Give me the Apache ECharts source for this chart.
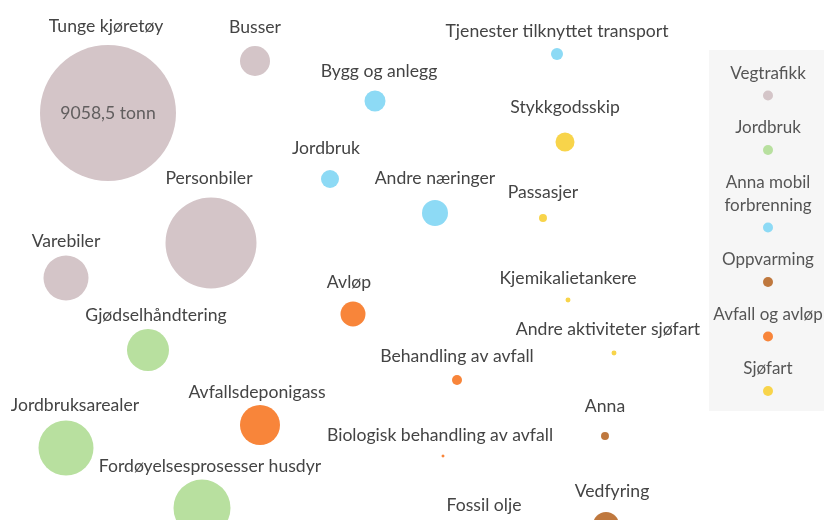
<!DOCTYPE html>
<html>
<head>
<meta charset="utf-8">
<script src="https://cdn.jsdelivr.net/npm/echarts@6/dist/echarts.min.js"></script>
<style>
  html, body { margin: 0; padding: 0; background: #fff; }
  #chart { width: 824px; height: 520px; }
</style>
</head>
<body>
<div id="chart"></div>
<script>
// kategorier (legend)
const categories = ['Vegtrafikk', 'Jordbruk', 'Anna mobil forbrenning', 'Oppvarming', 'Avfall og avløp', 'Sjøfart']
const colors = ['#d4c5c8', '#b8e09f', '#8ddaf5', '#bf783e', '#f8853a', '#f8d44a']

// utslipp i tonn, plassering i et 824 x 520 koordinatrom
const vegtrafikkNames = ['Tunge kjøretøy', 'Busser', 'Personbiler', 'Varebiler']
const vegtrafikkX = [108, 255, 211, 66]
const vegtrafikkY = [113, 61, 243, 278]
const vegtrafikkValues = [9058.5, 441, 4055, 992]

const jordbrukNames = ['Gjødselhåndtering', 'Jordbruksarealer', 'Fordøyelsesprosesser husdyr']
const jordbrukX = [148, 66, 202]
const jordbrukY = [350, 448, 508]
const jordbrukValues = [864, 1481, 1591]

const mobilNames = ['Tjenester tilknyttet transport', 'Bygg og anlegg', 'Jordbruk', 'Andre næringer']
const mobilX = [557, 375, 330, 435]
const mobilY = [54, 101, 179, 213]
const mobilValues = [71, 216, 159, 331]

const oppvarmingNames = ['Anna', 'Vedfyring', 'Fossil olje']
const oppvarmingX = [605, 606, 484]
const oppvarmingY = [436, 525, 538]
const oppvarmingValues = [31, 331, 150]

const avfallNames = ['Avløp', 'Behandling av avfall', 'Avfallsdeponigass', 'Biologisk behandling av avfall']
const avfallX = [353, 457, 260, 443]
const avfallY = [314, 380, 425, 456]
const avfallValues = [306, 49, 784, 4.4]

const sjofartNames = ['Stykkgodsskip', 'Passasjer', 'Kjemikalietankere', 'Andre aktiviteter sjøfart']
const sjofartX = [565, 543, 568, 614]
const sjofartY = [142, 218, 300, 353]
const sjofartValues = [177, 31, 12, 12]

const groups = [
  [vegtrafikkNames, vegtrafikkX, vegtrafikkY, vegtrafikkValues],
  [jordbrukNames, jordbrukX, jordbrukY, jordbrukValues],
  [mobilNames, mobilX, mobilY, mobilValues],
  [oppvarmingNames, oppvarmingX, oppvarmingY, oppvarmingValues],
  [avfallNames, avfallX, avfallY, avfallValues],
  [sjofartNames, sjofartX, sjofartY, sjofartValues]
]

const FONT = 'Lato'
const sizeOf = v => Math.sqrt(v) * 1.429

// finjustering av etikettene (px)
const labelShift = {
  'Tunge kjøretøy': [-2, 0], 'Personbiler': [-2, 0], 'Varebiler': [0, 5],
  'Gjødselhåndtering': [8, 5], 'Jordbruksarealer': [9, 4], 'Fordøyelsesprosesser husdyr': [8, 6],
  'Tjenester tilknyttet transport': [0, 2], 'Bygg og anlegg': [4, 0], 'Jordbruk': [-4, -3],
  'Andre næringer': [0, -3], 'Anna': [0, -7], 'Vedfyring': [6, -2], 'Fossil olje': [0, -5],
  'Avløp': [-4, 0], 'Avfallsdeponigass': [-3, 6], 'Biologisk behandling av avfall': [-3, 0],
  'Stykkgodsskip': [0, -6], 'Passasjer': [0, -3], 'Andre aktiviteter sjøfart': [-6, -2]
}

const series = groups.map((g, i) => {
  const [names, xs, ys, vals] = g
  return {
    name: categories[i],
    type: 'scatter',
    clip: false,
    data: names.map((n, j) => ({
      value: [xs[j], ys[j], vals[j]],
      name: n,
      label: { offset: labelShift[n] || [0, 0] }
    })),
    symbolSize: d => sizeOf(d[2]),
    itemStyle: { color: colors[i], opacity: 1 },
    label: {
      show: true,
      position: 'top',
      distance: 10,
      formatter: p => p.name,
      color: '#444',
      fontFamily: FONT,
      fontSize: 17.6
    },
    emphasis: { disabled: true }
  }
})

// verdien inne i den største boblen
series.push({
  name: 'verdi',
  type: 'scatter',
  clip: false,
  silent: true,
  data: [[vegtrafikkX[0], vegtrafikkY[0], vegtrafikkValues[0]]],
  symbolSize: d => sizeOf(d[2]),
  itemStyle: { color: 'rgba(0,0,0,0)' },
  label: {
    show: true,
    position: 'inside',
    formatter: p => p.data[2].toFixed(1).replace('.', ',') + ' tonn',
    color: '#444',
    fontFamily: FONT,
    fontSize: 17.6
  },
  z: 5
})

const rich = {
  t: { width: 106, align: 'center', lineHeight: 23, fontSize: 17, fontFamily: FONT, color: '#555' }
}
colors.forEach((c, i) => {
  rich['d' + i] = { width: 10, height: 10, borderRadius: 5, backgroundColor: c, align: 'center', lineHeight: 21 }
})

const chart = echarts.init(document.getElementById('chart'))
chart.setOption({
  animation: false,
  grid: { left: 0, right: 0, top: 0, bottom: 0 },
  xAxis: { type: 'value', min: 0, max: 824, show: false },
  yAxis: { type: 'value', min: 0, max: 520, inverse: true, show: false },
  legend: {
    orient: 'vertical',
    left: 709,
    top: 50,
    padding: [15, 4, 14, 0],
    itemGap: 18,
    itemWidth: 1,
    itemHeight: 1,
    itemStyle: { opacity: 0 },
    backgroundColor: '#f6f6f6',
    selectedMode: false,
    data: categories,
    formatter: name => {
      const i = categories.indexOf(name)
      const lines = name === 'Anna mobil forbrenning' ? ['Anna mobil', 'forbrenning'] : [name]
      return lines.map(l => '{t|' + l + '}').join('\n') + '\n{d' + i + '|}'
    },
    textStyle: { rich }
  },
  series
})
</script>
</body>
</html>
